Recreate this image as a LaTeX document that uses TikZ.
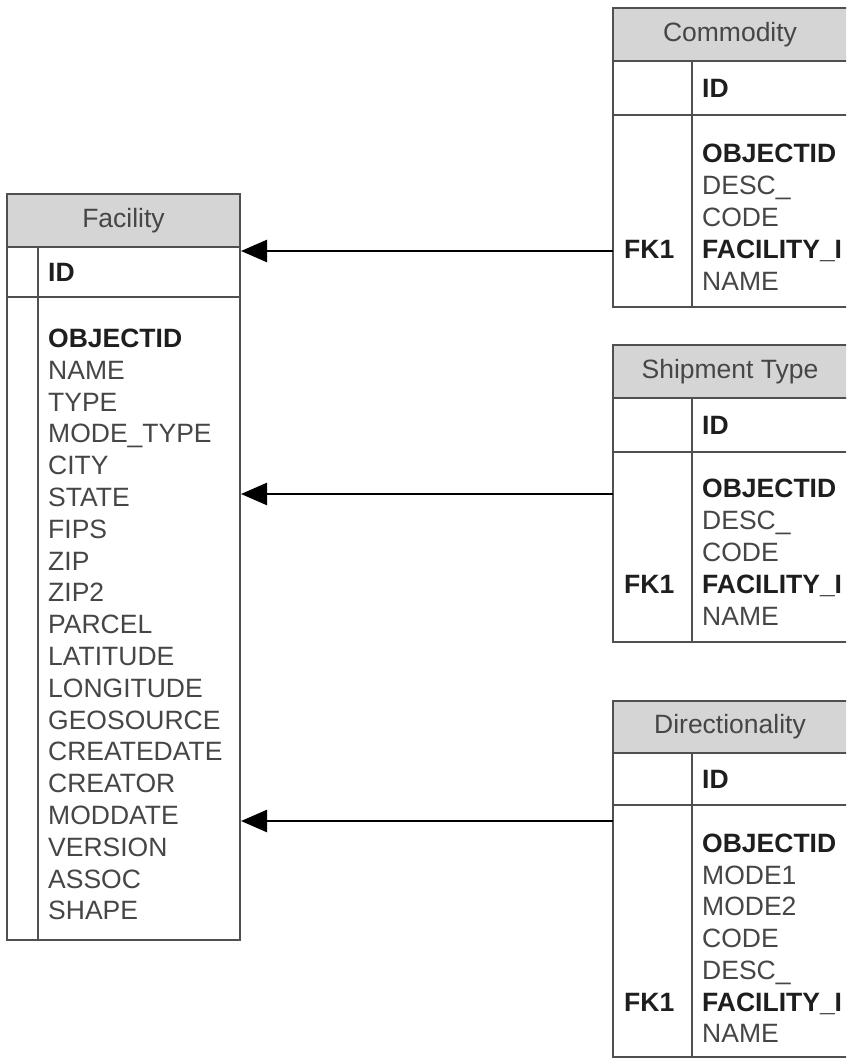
\documentclass[tikz,border=0pt]{standalone}
\usepackage{fontspec}
\setmainfont{Liberation Sans}
\usepackage{tikz}
\usepackage{xcolor}
\usetikzlibrary{arrows.meta}
\definecolor{hdrgray}{HTML}{D5D5D5}
\definecolor{linegray}{HTML}{505050}
\definecolor{txtgray}{HTML}{464646}
\definecolor{keyblack}{HTML}{1E1E1E}

\begin{document}
\begin{tikzpicture}[x=1pt,y=-1pt,
  tbl/.style={draw=linegray,line width=2pt},
  title/.style={inner sep=0pt,text=txtgray,font=\fontsize{26.5}{32}\selectfont},
  field/.style={anchor=west,inner sep=0pt,text height=19pt,text depth=0pt,text=txtgray,font=\fontsize{26.5}{32}\selectfont},
  keyfield/.style={field,text=keyblack,font=\fontsize{26.5}{32}\selectfont\bfseries},
  rel/.style={draw=black,line width=2.5pt,-{Triangle[length=26pt,width=22pt]}}]
\clip (0,0) rectangle (846,1062);
\fill[white] (0,0) rectangle (846,1062);
% Facility
\fill[hdrgray] (7,194) rectangle (240,247);
\draw[tbl] (7,194) rectangle (240,940);
\draw[tbl] (7,247) -- (240,247);
\draw[tbl] (7,297) -- (240,297);
\draw[tbl] (38,247) -- (38,940);
\node[title] (fac) at (123.5,220.5) {Facility};
\node[keyfield] (facid) at (48,272) {ID};
\node[keyfield] (facf1) at (48,338) {OBJECTID};
\foreach \t [count=\i from 2] in {NAME,TYPE,MODE\_TYPE,CITY,STATE,FIPS,ZIP,ZIP2,PARCEL,LATITUDE,LONGITUDE,GEOSOURCE,CREATEDATE,CREATOR,MODDATE,VERSION,ASSOC,SHAPE}
  \node[field] (facf\i) at (48,338+31.8*\i-31.8) {\t};
% Commodity
\fill[hdrgray] (613,8) rectangle (852,61);
\draw[tbl] (613,8) rectangle (852,307);
\draw[tbl] (613,61) -- (852,61);
\draw[tbl] (613,115) -- (852,115);
\draw[tbl] (692,61) -- (692,307);
\node[title] (com) at (730,34.5) {Commodity};
\node[keyfield] (comid) at (702,88) {ID};
\node[keyfield] (comf1) at (702,153) {OBJECTID};
\node[field] (comf2) at (702,185) {DESC\_};
\node[field] (comf3) at (702,217) {CODE};
\node[keyfield] (comf4) at (702,249) {FACILITY\_I};
\node[field] (comf5) at (702,281) {NAME};
\node[keyfield] (comfk) at (624,249) {FK1};
% Shipment Type
\fill[hdrgray] (613,345) rectangle (852,398);
\draw[tbl] (613,345) rectangle (852,642);
\draw[tbl] (613,398) -- (852,398);
\draw[tbl] (613,452) -- (852,452);
\draw[tbl] (692,398) -- (692,642);
\node[title] (shp) at (730,371.5) {Shipment Type};
\node[keyfield] (shpid) at (702,425) {ID};
\node[keyfield] (shpf1) at (702,488) {OBJECTID};
\node[field] (shpf2) at (702,520) {DESC\_};
\node[field] (shpf3) at (702,552) {CODE};
\node[keyfield] (shpf4) at (702,584) {FACILITY\_I};
\node[field] (shpf5) at (702,616) {NAME};
\node[keyfield] (shpfk) at (624,584) {FK1};
% Directionality
\fill[hdrgray] (613,701) rectangle (852,753);
\draw[tbl] (613,701) rectangle (852,1057);
\draw[tbl] (613,753) -- (852,753);
\draw[tbl] (613,805) -- (852,805);
\draw[tbl] (692,753) -- (692,1057);
\node[title] (dir) at (730,727) {Directionality};
\node[keyfield] (dirid) at (702,779) {ID};
\node[keyfield] (dirf1) at (702,843) {OBJECTID};
\node[field] (dirf2) at (702,874.7) {MODE1};
\node[field] (dirf3) at (702,906.4) {MODE2};
\node[field] (dirf4) at (702,938.1) {CODE};
\node[field] (dirf5) at (702,969.8) {DESC\_};
\node[keyfield] (dirf6) at (702,1001.5) {FACILITY\_I};
\node[field] (dirf7) at (702,1033.2) {NAME};
\node[keyfield] (dirfk) at (624,1001.5) {FK1};
% relations
\coordinate (comout) at (613,251);
\coordinate (shpout) at (613,494);
\coordinate (dirout) at (613,821);
\coordinate (facin1) at (241,251);
\coordinate (facin2) at (241,494);
\coordinate (facin3) at (241,821);
\draw[rel] (comout) -- (facin1);
\draw[rel] (shpout) -- (facin2);
\draw[rel] (dirout) -- (facin3);
\end{tikzpicture}
\end{document}
